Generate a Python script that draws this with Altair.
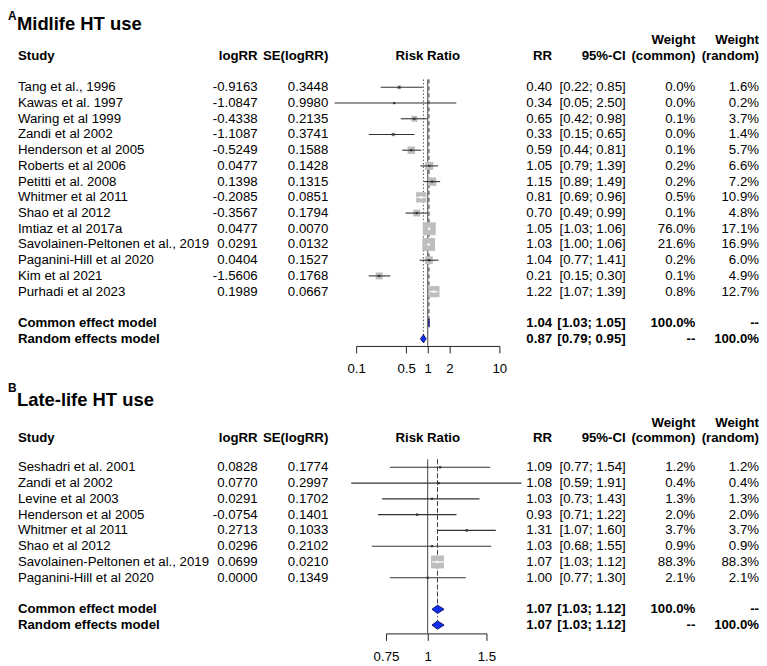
import math
import altair as alt
import pandas as pd

# ---------------- Data: panel A (Midlife HT use) ----------------
a_studies = ["Tang et al., 1996", "Kawas et al. 1997", "Waring et al 1999", "Zandi et al 2002",
             "Henderson et al 2005", "Roberts et al 2006", "Petitti et al. 2008", "Whitmer et al 2011",
             "Shao et al 2012", "Imtiaz et al 2017a", "Savolainen-Peltonen et al., 2019",
             "Paganini-Hill et al 2020", "Kim et al 2021", "Purhadi et al 2023"]
a_logrr = [-0.9163, -1.0847, -0.4338, -1.1087, -0.5249, 0.0477, 0.1398, -0.2085, -0.3567, 0.0477,
           0.0291, 0.0404, -1.5606, 0.1989]
a_se = [0.3448, 0.9980, 0.2135, 0.3741, 0.1588, 0.1428, 0.1315, 0.0851, 0.1794, 0.0070, 0.0132,
        0.1527, 0.1768, 0.0667]
a_rr = [0.40, 0.34, 0.65, 0.33, 0.59, 1.05, 1.15, 0.81, 0.70, 1.05, 1.03, 1.04, 0.21, 1.22]
a_lo = [0.22, 0.05, 0.42, 0.15, 0.44, 0.79, 0.89, 0.69, 0.49, 1.03, 1.00, 0.77, 0.15, 1.07]
a_hi = [0.85, 2.50, 0.98, 0.65, 0.81, 1.39, 1.49, 0.96, 0.99, 1.06, 1.06, 1.41, 0.30, 1.39]
a_wc = [0.0, 0.0, 0.1, 0.0, 0.1, 0.2, 0.2, 0.5, 0.1, 76.0, 21.6, 0.2, 0.1, 0.8]
a_wr = [1.6, 0.2, 3.7, 1.4, 5.7, 6.6, 7.2, 10.9, 4.8, 17.1, 16.9, 6.0, 4.9, 12.7]
a_models = ["Common effect model", "Random effects model"]
a_mrr = [1.04, 0.87]
a_mlo = [1.03, 0.79]
a_mhi = [1.05, 0.95]
a_mwc = ["100.0%", "--"]
a_mwr = ["--", "100.0%"]
a_ticks = [0.1, 0.5, 1, 2, 10]

# ---------------- Data: panel B (Late-life HT use) ----------------
b_studies = ["Seshadri et al. 2001", "Zandi et al 2002", "Levine et al 2003", "Henderson et al 2005",
             "Whitmer et al 2011", "Shao et al 2012", "Savolainen-Peltonen et al., 2019",
             "Paganini-Hill et al 2020"]
b_logrr = [0.0828, 0.0770, 0.0291, -0.0754, 0.2713, 0.0296, 0.0699, 0.0000]
b_se = [0.1774, 0.2997, 0.1702, 0.1401, 0.1033, 0.2102, 0.0210, 0.1349]
b_rr = [1.09, 1.08, 1.03, 0.93, 1.31, 1.03, 1.07, 1.00]
b_lo = [0.77, 0.59, 0.73, 0.71, 1.07, 0.68, 1.03, 0.77]
b_hi = [1.54, 1.91, 1.43, 1.22, 1.60, 1.55, 1.12, 1.30]
b_wc = [1.2, 0.4, 1.3, 2.0, 3.7, 0.9, 88.3, 2.1]
b_wr = [1.2, 0.4, 1.3, 2.0, 3.7, 0.9, 88.3, 2.1]
b_models = ["Common effect model", "Random effects model"]
b_mrr = [1.07, 1.07]
b_mlo = [1.03, 1.03]
b_mhi = [1.12, 1.12]
b_mwc = ["100.0%", "--"]
b_mwr = ["--", "100.0%"]
b_ticks = [0.75, 1, 1.5]

# ---------------- Style / layout ----------------
FONT = "Liberation Sans"
FS = 13.3
W = 755
X_STUDY, X_LOGRR, X_SE, X_RRHEAD, X_RR, X_CI, X_WC, X_WR = 10, 251, 322, 422, 547, 621, 691, 755
SQ_MAX = 169.0
CI_COLOR = "#333333"
SQ_COLOR = "#BEBEBE"


def panel(letter, title, studies, logrr, se, rr, lo, hi, wc, wr, models, mrr, mlo, mhi, mwc, mwr,
          ticks, dom, rng, top, bottom, title_row, weight_row, head_row, height):
    n = len(studies)
    mrows = [n + 1, n + 2]
    yscale = alt.Scale(domain=[top, bottom], reverse=True, nice=False, zero=False)
    xscale = alt.Scale(type="log", domain=dom, range=rng, nice=False)
    xaxis = alt.Axis(values=ticks, format="~g", title=None, grid=False, tickSize=7,
                     labelFontSize=FS, labelFont=FONT, labelColor="black", domainColor="#222222",
                     tickColor="#222222", labelPadding=9, labelOverlap=False, labelFlush=False,
                     domainWidth=1, tickWidth=1)

    def Y(f):
        return alt.Y(f, type="quantitative", scale=yscale, axis=None)

    def X(f):
        return alt.X(f, type="quantitative", scale=xscale, axis=xaxis)

    k = (rng[1] - rng[0]) / (math.log10(dom[1]) - math.log10(dom[0]))
    wmax = max(wr)
    sq, lc = [], []
    for r, l, h, w in zip(rr, lo, hi, wr):
        s = SQ_MAX * w / wmax
        side = math.sqrt(s)
        left = k * (math.log10(r) - math.log10(l))
        right = k * (math.log10(h) - math.log10(r))
        sq.append(s)
        lc.append("white" if max(left, right) <= side / 2 + 0.3 and side > 6 else CI_COLOR)

    df = pd.DataFrame(dict(
        row=list(range(n)), study=studies,
        logrr=[f"{v:.4f}" for v in logrr], se=[f"{v:.4f}" for v in se],
        rrt=[f"{v:.2f}" for v in rr], cit=[f"[{l:.2f}; {h:.2f}]" for l, h in zip(lo, hi)],
        wct=[f"{v:.1f}%" for v in wc], wrt=[f"{v:.1f}%" for v in wr],
        rr=rr, lo=lo, hi=hi, sq=sq, lc=lc))

    dm = pd.DataFrame(dict(
        row=mrows, study=models, rrt=[f"{v:.2f}" for v in mrr],
        cit=[f"[{l:.2f}; {h:.2f}]" for l, h in zip(mlo, mhi)], wct=mwc, wrt=mwr))

    def txt(data, field, xpx, align, bold=False, size=FS, baseline="middle"):
        return alt.Chart(data).mark_text(
            align=align, baseline=baseline, font=FONT, fontSize=size,
            fontWeight="bold" if bold else "normal", color="black"
        ).encode(x=alt.value(xpx), y=Y("row"), text=alt.Text(f"{field}:N"))

    layers = []
    # reference lines
    lines = pd.DataFrame(dict(x=[1.0], y=[-0.5], y2=[bottom]))
    layers.append(alt.Chart(lines).mark_rule(color="#444444", strokeWidth=1).encode(
        x=X("x"), y=Y("y"), y2="y2"))
    lc_ = pd.DataFrame(dict(x=[mrr[0]], y=[-0.5], y2=[mrows[0]]))
    layers.append(alt.Chart(lc_).mark_rule(color="#333333", strokeWidth=1, strokeDash=[4, 3]).encode(
        x=X("x"), y=Y("y"), y2="y2"))
    lr_ = pd.DataFrame(dict(x=[mrr[1]], y=[-0.5], y2=[mrows[1]]))
    layers.append(alt.Chart(lr_).mark_rule(color="#555555", strokeWidth=1, strokeDash=[1.5, 2]).encode(
        x=X("x"), y=Y("y"), y2="y2"))

    # squares, CI lines, estimates
    layers.append(alt.Chart(df).mark_square(color=SQ_COLOR, opacity=1).encode(
        x=X("rr"), y=Y("row"), size=alt.Size("sq:Q", scale=None)))
    layers.append(alt.Chart(df).mark_rule(strokeWidth=1.1).encode(
        x=X("lo"), x2="hi", y=Y("row"), color=alt.Color("lc:N", scale=None)))
    layers.append(alt.Chart(df).mark_square(size=5, opacity=1).encode(
        x=X("rr"), y=Y("row"), color=alt.Color("lc:N", scale=None)))

    # diamonds
    drows = []
    for i, (e, l, h) in enumerate(zip(mrr, mlo, mhi)):
        r = mrows[i]
        drows += [dict(id=i, x=l, y=r, y2=r), dict(id=i, x=e, y=r - 0.26, y2=r + 0.26),
                  dict(id=i, x=h, y=r, y2=r)]
    layers.append(alt.Chart(pd.DataFrame(drows)).mark_area(
        fill="#1030F0", stroke="#0A0A60", strokeWidth=0.9, opacity=1).encode(
        x=X("x"), y=Y("y"), y2="y2", detail="id:N"))

    # table texts
    layers += [
        txt(df, "study", X_STUDY, "left"),
        txt(df, "logrr", X_LOGRR, "right"),
        txt(df, "se", X_SE, "right"),
        txt(df, "rrt", X_RR, "right"),
        txt(df, "cit", X_CI, "right"),
        txt(df, "wct", X_WC, "right"),
        txt(df, "wrt", X_WR, "right"),
        txt(dm, "study", X_STUDY, "left", True),
        txt(dm, "rrt", X_RR, "right", True),
        txt(dm, "cit", X_CI, "right", True),
        txt(dm, "wct", X_WC, "right", True),
        txt(dm, "wrt", X_WR, "right", True),
    ]

    # headers
    hl = pd.DataFrame(dict(row=[head_row], t=["Study"]))
    hr = pd.DataFrame(dict(row=[head_row, head_row], t=["logRR", "SE(logRR)"]))
    layers.append(txt(hl, "t", X_STUDY, "left", True))
    layers.append(txt(pd.DataFrame(dict(row=[head_row], t=["logRR"])), "t", X_LOGRR, "right", True))
    layers.append(txt(pd.DataFrame(dict(row=[head_row], t=["SE(logRR)"])), "t", X_SE, "right", True))
    layers.append(txt(pd.DataFrame(dict(row=[head_row], t=["Risk Ratio"])), "t", X_RRHEAD, "center", True))
    layers.append(txt(pd.DataFrame(dict(row=[head_row], t=["RR"])), "t", X_RR, "right", True))
    layers.append(txt(pd.DataFrame(dict(row=[head_row], t=["95%-CI"])), "t", X_CI, "right", True))
    layers.append(txt(pd.DataFrame(dict(row=[weight_row, head_row], t=["Weight", "(common)"])),
                      "t", X_WC, "right", True))
    layers.append(txt(pd.DataFrame(dict(row=[weight_row, head_row], t=["Weight", "(random)"])),
                      "t", X_WR, "right", True))
    layers.append(txt(pd.DataFrame(dict(row=[title_row], t=[title])), "t", 9, "left", True, 18.5))
    layers.append(txt(pd.DataFrame(dict(row=[top], t=[letter])), "t", 0, "left", True, 12, "top"))

    return alt.layer(*layers).properties(width=W, height=height)


pA = panel("A", "Midlife HT use", a_studies, a_logrr, a_se, a_rr, a_lo, a_hi, a_wc, a_wr,
           a_models, a_mrr, a_mlo, a_mhi, a_mwc, a_mwr, a_ticks,
           dom=[0.1, 10], rng=[350, 494], top=-4.873, bottom=16.456,
           title_row=-4.0, weight_row=-3.0, head_row=-2.0, height=337)

pB = panel("B", "Late-life HT use", b_studies, b_logrr, b_se, b_rr, b_lo, b_hi, b_wc, b_wr,
           b_models, b_mrr, b_mlo, b_mhi, b_mwc, b_mwr, b_ticks,
           dom=[0.75, 1.5], rng=[380, 481], top=-5.36, bottom=10.53,
           title_row=-4.27, weight_row=-2.8, head_row=-1.83, height=252)

chart = alt.vconcat(pA, pB, spacing=37, bounds="flush").properties(padding=0).configure_view(stroke=None)

chart.save("out.html", embed_options={"renderer": "svg", "actions": False})
